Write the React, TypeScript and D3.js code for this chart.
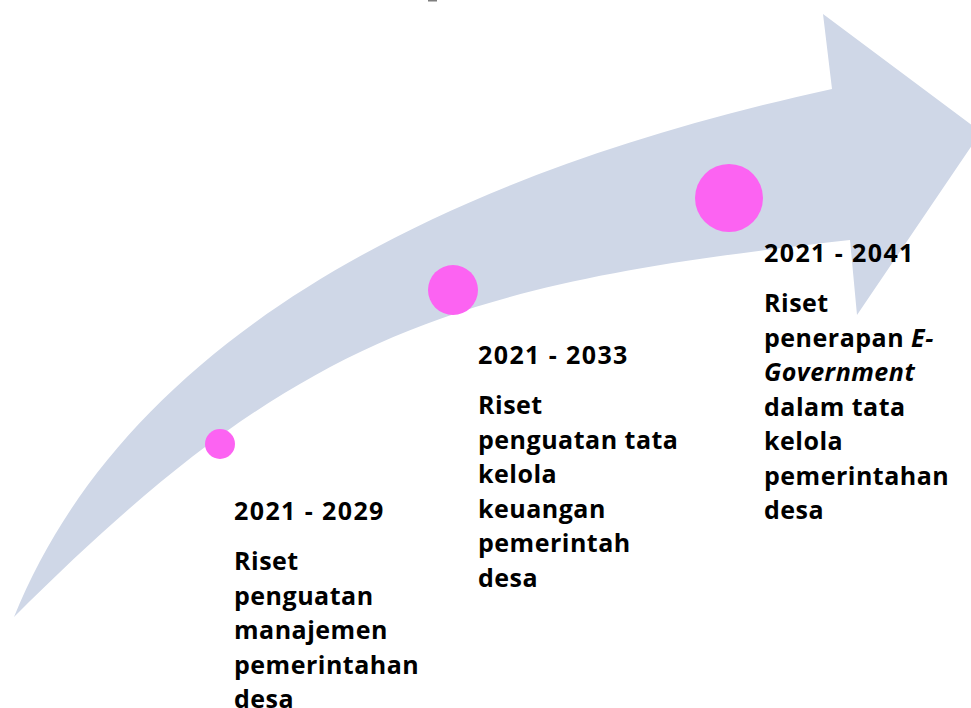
import React, { useEffect, useRef } from "react";
import * as d3 from "d3";

// curved shaft: start tip, control points and end of each edge (cubic)
const shaftTip: [number, number] = [14, 617];
const upperControls: [number, number][] = [[111, 377], [370, 190], [832, 89]];
// arrow head: top barb, tip, bottom barb, inner lower corner
const headPoints: [number, number][] = [[823, 14], [981, 132], [857, 315], [850, 240]];
const lowerControls: [number, number][] = [[452, 284], [297, 334], [14, 617]];

const milestones = [
  { cx: 220, cy: 444, r: 15 },
  { cx: 453, cy: 290, r: 25 },
  { cx: 729, cy: 198, r: 34 },
];

const periods = ["2021 - 2029", "2021 - 2033", "2021 - 2041"];

// each line is a list of [text, italic] runs
const descriptions: [string, boolean][][][] = [
  [
    [["Riset", false]],
    [["penguatan", false]],
    [["manajemen", false]],
    [["pemerintahan", false]],
    [["desa", false]],
  ],
  [
    [["Riset", false]],
    [["penguatan tata", false]],
    [["kelola", false]],
    [["keuangan", false]],
    [["pemerintah", false]],
    [["desa", false]],
  ],
  [
    [["Riset", false]],
    [["penerapan ", false], ["E-", true]],
    [["Government", true]],
    [["dalam tata", false]],
    [["kelola", false]],
    [["pemerintahan", false]],
    [["desa", false]],
  ],
];

const labelPos = [
  { x: 234, y: 520 },
  { x: 478, y: 364 },
  { x: 764, y: 262 },
];

export default function App() {
  const ref = useRef<SVGSVGElement>(null);

  useEffect(() => {
    const svg = d3.select(ref.current);
    svg.selectAll("*").remove();

    const p = d3.path();
    p.moveTo(...shaftTip);
    p.bezierCurveTo(...upperControls[0], ...upperControls[1], ...upperControls[2]);
    headPoints.forEach((pt) => p.lineTo(...pt));
    p.bezierCurveTo(...lowerControls[0], ...lowerControls[1], ...lowerControls[2]);
    p.closePath();

    svg.append("path").attr("d", p.toString()).attr("fill", "#cfd7e7");

    // small mark at top (cut-off title)
    svg.append("rect").attr("x", 428).attr("y", 0).attr("width", 9).attr("height", 1.5).attr("fill", "#7f7f7f");

    svg.selectAll("circle.m")
      .data(milestones)
      .join("circle")
      .attr("class", "m")
      .attr("cx", (m) => m.cx)
      .attr("cy", (m) => m.cy)
      .attr("r", (m) => m.r)
      .attr("fill", "#fc63f2");

    const g = svg.append("g")
      .attr("font-family", "'Open Sans', sans-serif")
      .attr("font-weight", "bold")
      .attr("font-size", 25)
      .attr("fill", "#000");

    periods.forEach((per, i) => {
      const pos = labelPos[i];
      g.append("text")
        .attr("x", pos.x)
        .attr("y", pos.y)
        .attr("letter-spacing", 1.4)
        .text(per);
      descriptions[i].forEach((line, j) => {
        const t = g.append("text")
          .attr("x", pos.x)
          .attr("y", pos.y + 50 + j * 34.5)
          .attr("letter-spacing", 0.5);
        line.forEach(([s, it]) => {
          t.append("tspan")
            .attr("font-style", it ? "italic" : "normal")
            .text(s);
        });
      });
    });
  }, []);

  return (
    <div style={{ position: "absolute", left: 0, top: 0 }}>
      <svg ref={ref} width={971} height={708} style={{ display: "block", background: "#fff" }} />
    </div>
  );
}
